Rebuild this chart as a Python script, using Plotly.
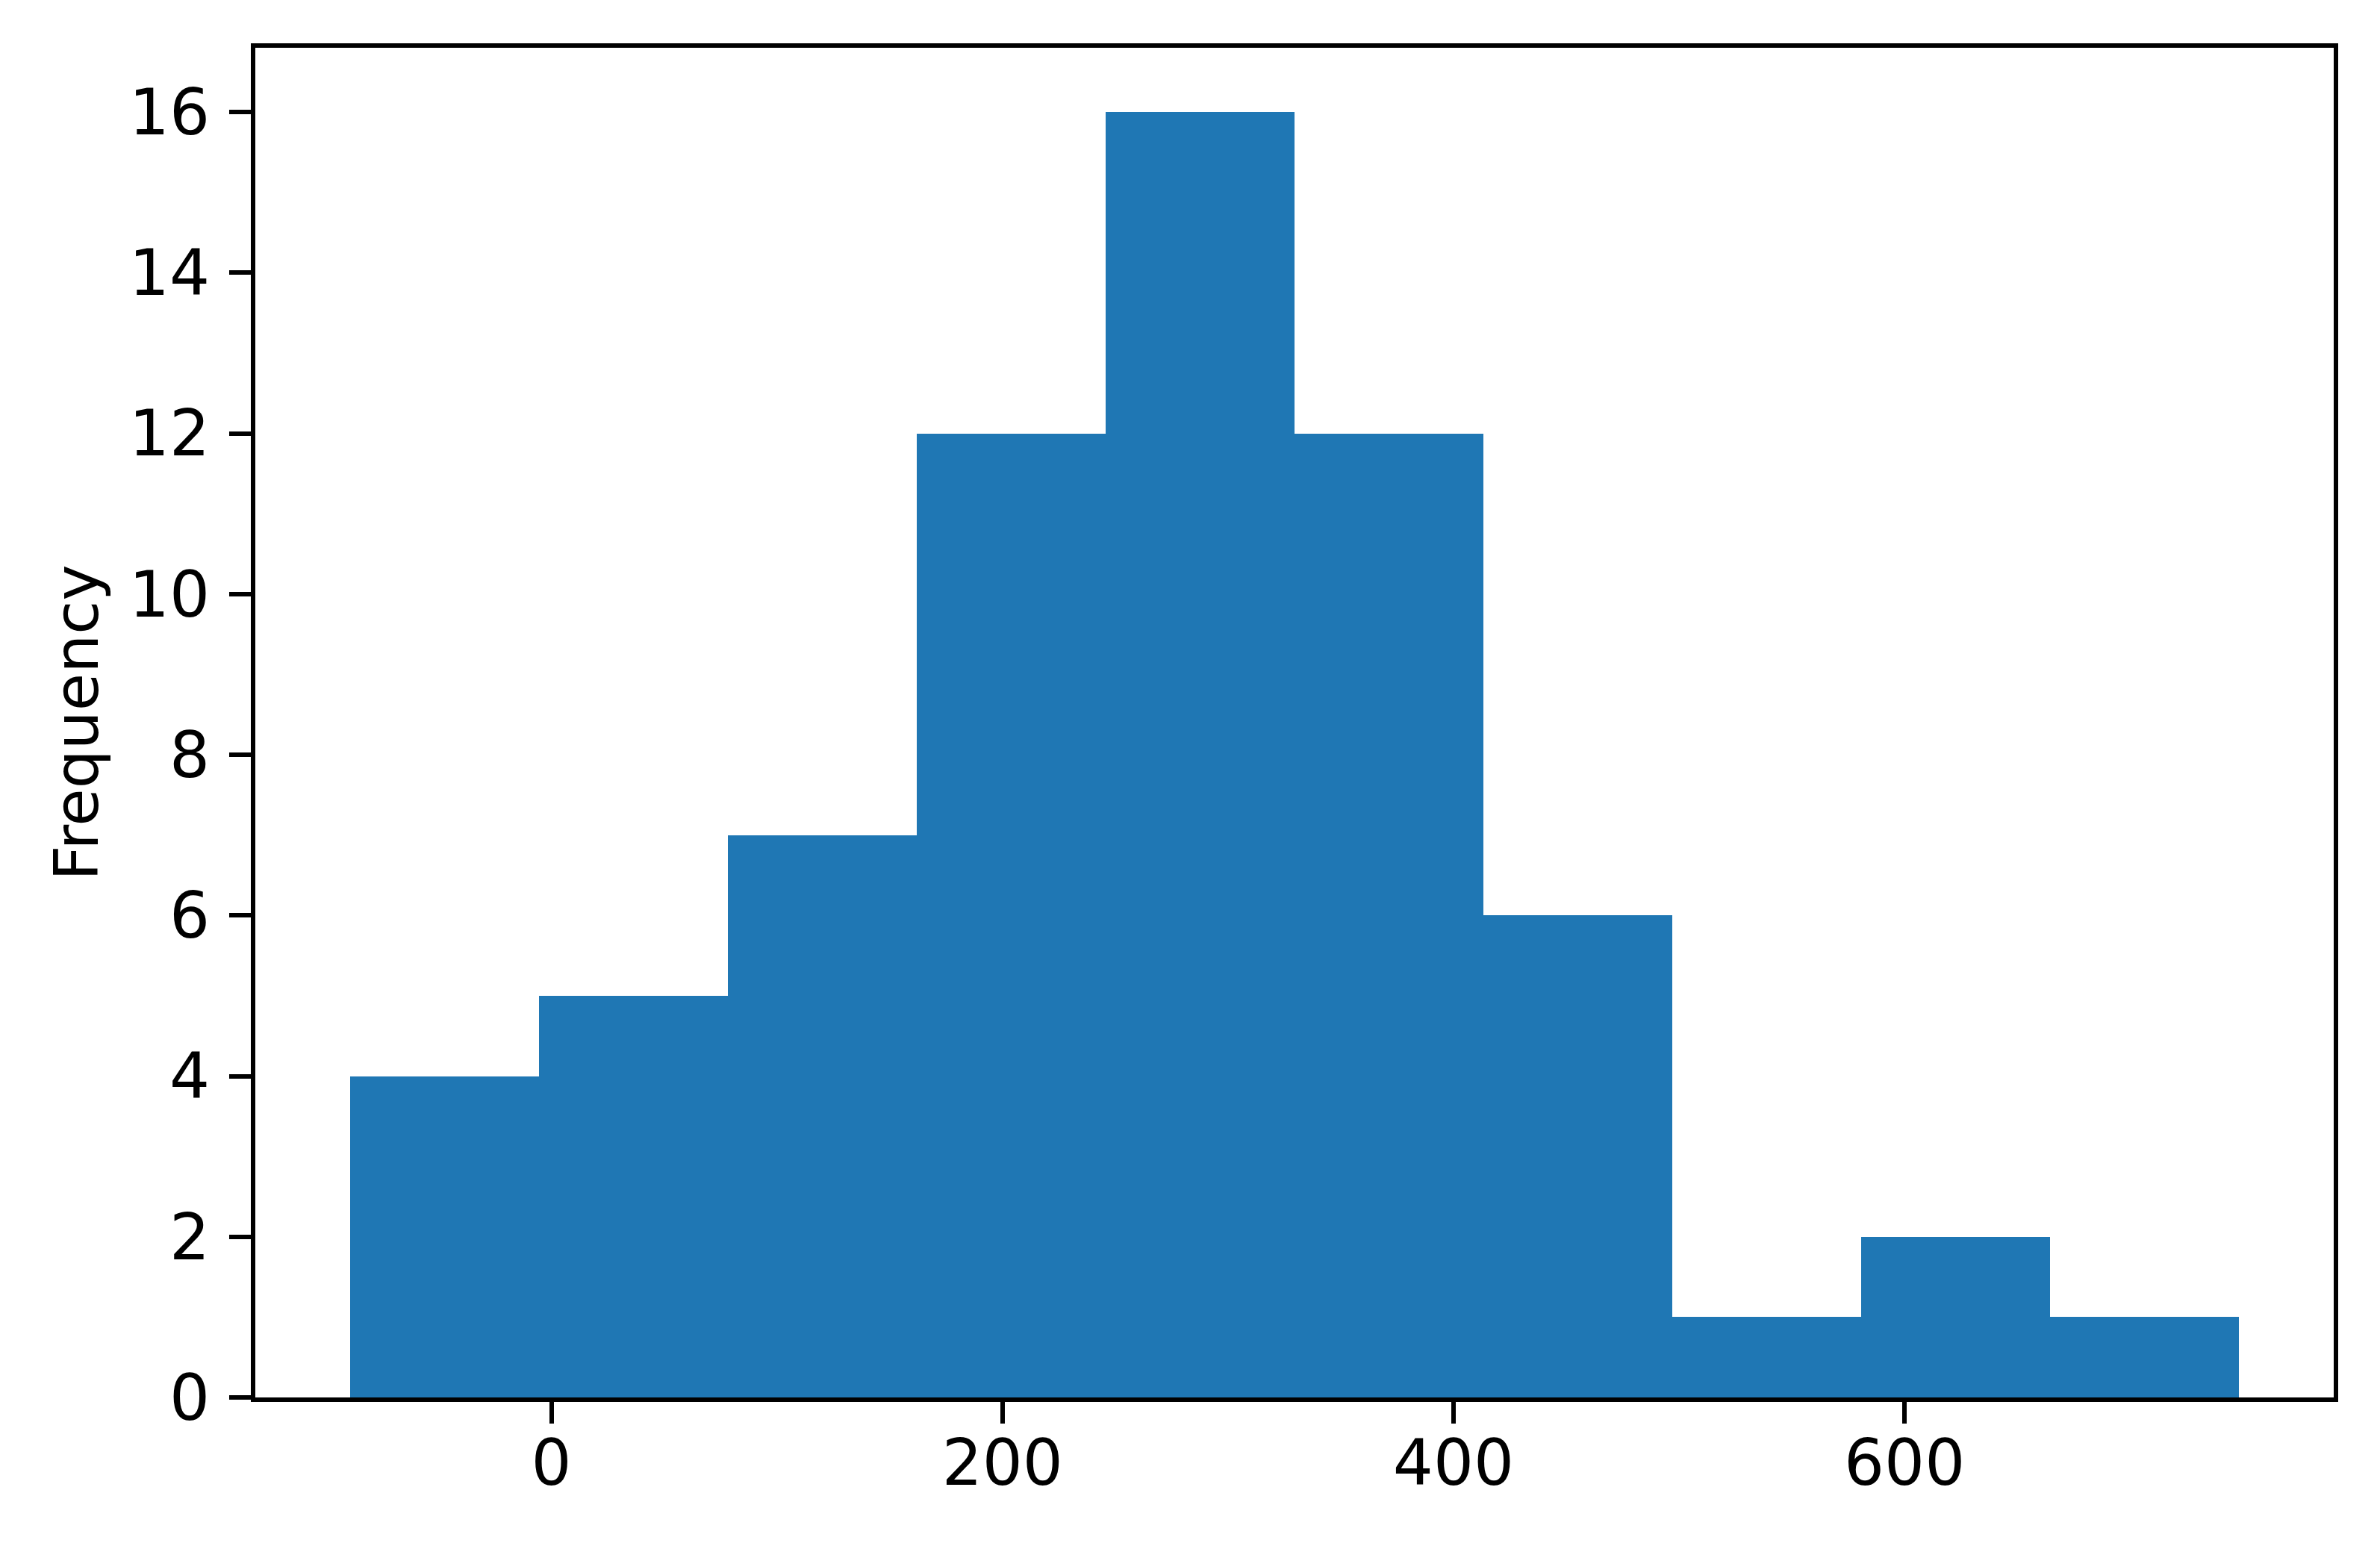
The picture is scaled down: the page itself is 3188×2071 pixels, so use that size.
import plotly.graph_objects as go

# Histogram data
bin_edges = [-89.4, -5.6, 78.2, 162.0, 245.7, 329.5, 413.3, 497.1, 580.9, 664.6, 748.4]
counts = [4, 5, 7, 12, 16, 12, 6, 1, 2, 1]
x_ticks = [0, 200, 400, 600]
y_ticks = [0, 2, 4, 6, 8, 10, 12, 14, 16]

centers = [(a + b) / 2 for a, b in zip(bin_edges[:-1], bin_edges[1:])]
widths = [b - a for a, b in zip(bin_edges[:-1], bin_edges[1:])]

span = bin_edges[-1] - bin_edges[0]
x_range = [bin_edges[0] - 0.05 * span, bin_edges[-1] + 0.05 * span]
y_range = [0, max(counts) * 1.05]

fig = go.Figure(
    go.Bar(
        x=centers,
        y=counts,
        width=widths,
        marker=dict(color="#1f77b4", line=dict(width=0)),
    )
)

font = "DejaVu Sans"
axis_common = dict(
    showline=True,
    linecolor="black",
    linewidth=6,
    mirror=True,
    ticks="outside",
    ticklen=29,
    tickwidth=6,
    tickcolor="black",
    showgrid=False,
    zeroline=False,
    tickfont=dict(family=font, size=85, color="black"),
)

fig.update_layout(
    width=3188,
    height=2071,
    margin=dict(l=334, r=70, t=56, b=207, autoexpand=False),
    paper_bgcolor="white",
    plot_bgcolor="white",
    bargap=0,
    showlegend=False,
    xaxis=dict(
        range=x_range,
        tickmode="array",
        tickvals=x_ticks,
        ticktext=[str(v) for v in x_ticks],
        ticklabelstandoff=-20,
        **axis_common,
    ),
    yaxis=dict(
        range=y_range,
        tickmode="array",
        tickvals=y_ticks,
        ticktext=[str(v) for v in y_ticks],
        ticklabelstandoff=9,
        title=dict(text="Frequency", font=dict(family=font, size=82, color="black"), standoff=16),
        **axis_common,
    ),
)

fig.write_html("out.html")
